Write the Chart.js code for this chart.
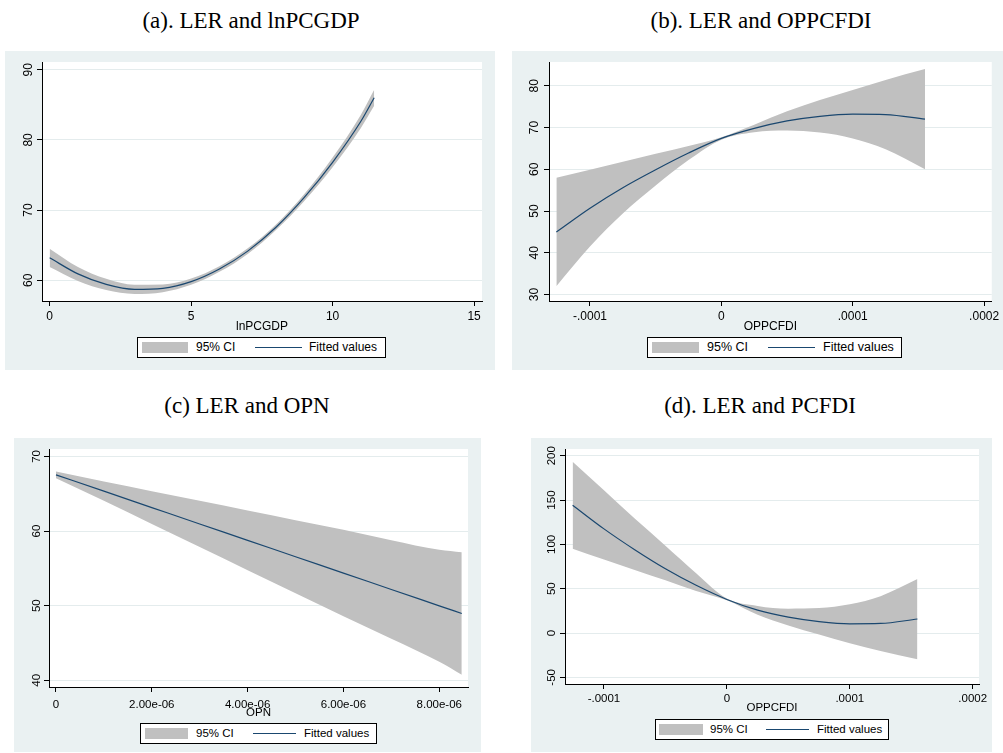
<!DOCTYPE html>
<html>
<head>
<meta charset="utf-8">
<script src="https://cdn.jsdelivr.net/npm/chart.js@4.4.1/dist/chart.umd.min.js"></script>
<style>
  body { margin: 0; background: #fff; width: 1003px; height: 753px; position: relative; overflow: hidden; }
  canvas { position: absolute; }
  .ttl { position: absolute; font-family: "Liberation Serif", "Times New Roman", serif; font-size: 23px;
         line-height: 23px; white-space: nowrap; transform: translateX(-50%); color: #000; }
  .leg { position: absolute; border: 1px solid #000; background: #fff; box-sizing: border-box;
         font-family: "Liberation Sans", Arial, sans-serif; color: #000; }
  .leg span { position: absolute; top: 0; line-height: 19px; white-space: nowrap; }
  .leg i { position: absolute; display: block; }
</style>
</head>
<body>
<script>
// ---- data ----

// (a) LER and lnPCGDP
const aX = [0, 1, 2, 3, 4, 5, 6, 7, 8, 9, 10, 11, 11.47];
const aFit = [63.2, 60.9, 59.4, 58.7, 58.85, 59.8, 61.6, 64.15, 67.55, 71.8, 76.8, 82.65, 86.0];
const aUpper = [64.5, 61.9, 60.2, 59.35, 59.4, 60.25, 62.0, 64.55, 67.95, 72.3, 77.5, 83.6, 87.15];
const aLower = [61.9, 59.9, 58.6, 58.05, 58.3, 59.35, 61.2, 63.75, 67.15, 71.3, 76.1, 81.7, 84.85];
const aXTicks = [0, 5, 10, 15];
const aXLabels = ["0", "5", "10", "15"];
const aYTicks = [60, 70, 80, 90];

// (b) LER and OPPCFDI
const bX = [-0.0001256, -0.0001, -0.000075, -0.00005, -0.000025, 0, 0.000025, 0.00005, 0.000075, 0.0001, 0.000125, 0.000155];
const bFit = [45.0, 50.7, 55.6, 59.9, 63.9, 67.4, 69.8, 71.6, 72.7, 73.2, 73.1, 72.0];
const bUpper = [58.0, 59.9, 61.8, 63.7, 65.6, 67.7, 70.7, 73.9, 76.6, 79.0, 81.4, 84.0];
const bLower = [32.0, 41.5, 49.4, 56.1, 62.2, 67.1, 68.9, 69.3, 68.8, 67.4, 64.8, 60.0];
const bXTicks = [-0.0001, 0, 0.0001, 0.0002];
const bXLabels = ["-.0001", "0", ".0001", ".0002"];
const bYTicks = [30, 40, 50, 60, 70, 80];

// (c) LER and OPN
const cX = [0, 1e-6, 2e-6, 3e-6, 4e-6, 5e-6, 6e-6, 7e-6, 8e-6, 8.47e-6];
const cFit = [67.54, 65.35, 63.15, 60.95, 58.76, 56.56, 54.37, 52.17, 49.98, 48.95];
const cUpper = [67.99, 66.65, 65.35, 64.05, 62.76, 61.46, 60.17, 58.77, 57.48, 57.15];
const cLower = [67.09, 64.05, 60.95, 57.85, 54.76, 51.66, 48.57, 45.57, 42.48, 40.75];
const cXTicks = [0, 2e-6, 4e-6, 6e-6, 8e-6];
const cXLabels = ["0", "2.00e-06", "4.00e-06", "6.00e-06", "8.00e-06"];
const cYTicks = [40, 50, 60, 70];

// (d) LER and PCFDI
const dX = [-0.0001255, -0.0001, -0.000075, -0.00005, -0.000025, 0, 0.000025, 0.00005, 0.000075, 0.0001, 0.000125, 0.000155];
const dFit = [144.2, 117.5, 94.0, 72.5, 53.8, 37.9, 25.8, 17.9, 12.9, 10.4, 10.8, 15.8];
const dUpper = [193.2, 161.0, 129.1, 98.5, 67.5, 38.9, 30.5, 27.5, 28.2, 32.5, 41.6, 60.9];
const dLower = [95.2, 83.0, 71.1, 59.5, 47.5, 36.9, 20.5, 8.5, -1.8, -11.5, -20.4, -29.7];
const dXTicks = [-0.0001, 0, 0.0001, 0.0002];
const dXLabels = ["-.0001", "0", ".0001", ".0002"];
const dYTicks = [-50, 0, 50, 100, 150, 200];

// ---- styling ----
const PANEL_BG = "#eaf1f2";
const GRID = "#e4eced";
const BAND = "#c0c0c0";
const NAVY = "#1a476f";
const SANS = "'Liberation Sans', Arial, sans-serif";

// grey-blue panel with white plot region, like Stata s2color
const bgPlugin = {
  id: "panelBg",
  beforeDraw(chart) {
    const { ctx, chartArea: a } = chart;
    ctx.save();
    ctx.fillStyle = PANEL_BG;
    ctx.fillRect(0, 0, chart.width, chart.height);
    ctx.fillStyle = "#fff";
    ctx.fillRect(a.left, a.top, a.right - a.left, a.bottom - a.top);
    ctx.restore();
  },
};

// Stata writes the y labels turned a quarter, reading upward
const yLabelPlugin = {
  id: "yLabels",
  afterDraw(chart, args, opts) {
    const { ctx, scales: { y } } = chart;
    ctx.save();
    ctx.fillStyle = "#000";
    ctx.font = `${opts.size}px ${SANS}`;
    ctx.textAlign = "center";
    ctx.textBaseline = "middle";
    y.ticks.forEach((t) => {
      const py = y.getPixelForValue(t.value);
      ctx.save();
      ctx.translate(chart.chartArea.left - opts.gap, py);
      ctx.rotate(-Math.PI / 2);
      ctx.fillText(String(t.value), 0, 0);
      ctx.restore();
    });
    ctx.restore();
  },
};

const panels = [
  { x: aX, fit: aFit, up: aUpper, lo: aLower, xTicks: aXTicks, xLabels: aXLabels, yTicks: aYTicks,
    title: "(a). LER and lnPCGDP", titleX: 251, titleY: 9, xTitle: "lnPCGDP",
    box: [5, 51, 490, 319], plot: [42, 62, 482, 301], xMin: -0.27, xMax: 15.28, yMin: 57.04, yMax: 91.1,
    font: 12, titleC: 327, xPad: 3.8, yGap: 13.7,
    leg: { x: 137, y: 337, w: 249, h: 21, sw: [142, 188], ci: 196, ln: [255, 302], ft: 309, font: 12 } },
  { x: bX, fit: bFit, up: bUpper, lo: bLower, xTicks: bXTicks, xLabels: bXLabels, yTicks: bYTicks,
    title: "(b). LER and OPPCFDI", titleX: 761, titleY: 9, xTitle: "OPPCFDI",
    box: [512, 51, 491, 319], plot: [549, 62, 1000, 301], xMin: -0.0001312, xMax: 0.0002058, yMin: 28.46, yMax: 85.7,
    font: 12, titleC: 327, xPad: 3.8, yGap: 14.3,
    leg: { x: 647, y: 337, w: 255, h: 21, sw: [652, 699], ci: 707, ln: [768, 815], ft: 823, font: 12.5 } },
  { x: cX, fit: cFit, up: cUpper, lo: cLower, xTicks: cXTicks, xLabels: cXLabels, yTicks: cYTicks,
    title: "(c) LER and OPN", titleX: 247, titleY: 394, xTitle: "OPN",
    box: [14, 438, 467, 314], plot: [49, 449, 468, 687], xMin: -0.146e-6, xMax: 8.6e-6, yMin: 39.1, yMax: 71.0,
    font: 11.5, titleC: 713, xPad: 5.6, yGap: 12.3,
    leg: { x: 140, y: 723, w: 237, h: 21, sw: [145, 188], ci: 196, ln: [253, 296], ft: 304, font: 11.5 } },
  { x: dX, fit: dFit, up: dUpper, lo: dLower, xTicks: dXTicks, xLabels: dXLabels, yTicks: dYTicks,
    title: "(d). LER and PCFDI", titleX: 760, titleY: 394, xTitle: "OPPCFDI",
    box: [531, 438, 461, 314], plot: [565, 449, 979, 684], xMin: -0.0001317, xMax: 0.0002051, yMin: -57.5, yMax: 207.6,
    font: 11.5, titleC: 708, xPad: 3.1, yGap: 13.3,
    leg: { x: 655, y: 719, w: 234, h: 21, sw: [659, 703], ci: 710, ln: [766, 809], ft: 817, font: 11.5 } },
];

function pts(xs, ys) {
  return xs.map((x, i) => ({ x: x, y: ys[i] }));
}

function addLegend(l) {
  const box = document.createElement("div");
  box.className = "leg";
  box.style.cssText = `left:${l.x}px;top:${l.y}px;width:${l.w}px;height:${l.h}px;font-size:${l.font}px`;
  const ox = l.x + 1;
  const sw = document.createElement("i");
  sw.style.cssText = `left:${l.sw[0] - ox}px;top:4px;width:${l.sw[1] - l.sw[0]}px;height:11px;background:${BAND}`;
  const ln = document.createElement("i");
  ln.style.cssText = `left:${l.ln[0] - ox}px;top:9px;width:${l.ln[1] - l.ln[0]}px;height:1px;background:${NAVY}`;
  const t1 = document.createElement("span");
  t1.style.left = (l.ci - ox) + "px";
  t1.textContent = "95% CI";
  const t2 = document.createElement("span");
  t2.style.left = (l.ft - ox) + "px";
  t2.textContent = "Fitted values";
  box.append(sw, t1, ln, t2);
  document.body.appendChild(box);
}

panels.forEach((p) => {
  const [bx, by, bw, bh] = p.box;
  const [pl, pt, pr, pb] = p.plot;
  const lineH = p.font * 1.2;
  const axisBottom = p.titleC + lineH / 2;

  const t = document.createElement("div");
  t.className = "ttl";
  t.style.left = p.titleX + "px";
  t.style.top = p.titleY + "px";
  t.textContent = p.title;
  document.body.appendChild(t);

  const canvas = document.createElement("canvas");
  canvas.width = bw;
  canvas.height = bh;
  canvas.style.left = bx + "px";
  canvas.style.top = by + "px";
  document.body.appendChild(canvas);

  const font = { family: SANS, size: p.font };

  new Chart(canvas, {
    type: "line",
    data: {
      datasets: [
        { label: "Fitted values", data: pts(p.x, p.fit), fill: false, borderColor: NAVY, order: 0,
          borderWidth: 1.2, pointRadius: 0, cubicInterpolationMode: "monotone" },
        { label: "95% CI", data: pts(p.x, p.up), fill: "+1", backgroundColor: BAND, order: 1,
          borderColor: "rgba(0,0,0,0)", borderWidth: 0, pointRadius: 0, cubicInterpolationMode: "monotone" },
        { label: "lower", data: pts(p.x, p.lo), fill: false, order: 2,
          borderColor: "rgba(0,0,0,0)", borderWidth: 0, pointRadius: 0, cubicInterpolationMode: "monotone" },
      ],
    },
    options: {
      responsive: false,
      animation: false,
      devicePixelRatio: 1,
      layout: { padding: { left: 0, top: pt - by, right: bx + bw - pr, bottom: by + bh - axisBottom } },
      plugins: {
        legend: { display: false },
        tooltip: { enabled: false },
        filler: { drawTime: "beforeDatasetsDraw" },
        yLabels: { size: p.font, gap: p.yGap },
      },
      scales: {
        x: {
          type: "linear", min: p.xMin, max: p.xMax, bounds: "data",
          afterBuildTicks: (s) => { s.ticks = p.xTicks.map((v) => ({ value: v })); },
          afterFit: (s) => { s.height = axisBottom - pb; },
          ticks: { callback: (v, i) => p.xLabels[i], font: font, color: "#000", padding: p.xPad,
                   autoSkip: false, maxRotation: 0 },
          grid: { drawOnChartArea: false, tickLength: 5, tickColor: "#000" },
          border: { color: "#000", width: 1 },
          title: { display: true, text: p.xTitle, font: font, color: "#000", padding: 0 },
        },
        y: {
          min: p.yMin, max: p.yMax, bounds: "data",
          afterBuildTicks: (s) => { s.ticks = p.yTicks.map((v) => ({ value: v })); },
          afterFit: (s) => { s.width = pl - bx; },
          ticks: { display: false },
          grid: { color: GRID, lineWidth: 1, tickLength: 5, tickColor: "#000" },
          border: { color: "#000", width: 1 },
        },
      },
    },
    plugins: [bgPlugin, yLabelPlugin],
  });

  addLegend(p.leg);
});
</script>
</body>
</html>
